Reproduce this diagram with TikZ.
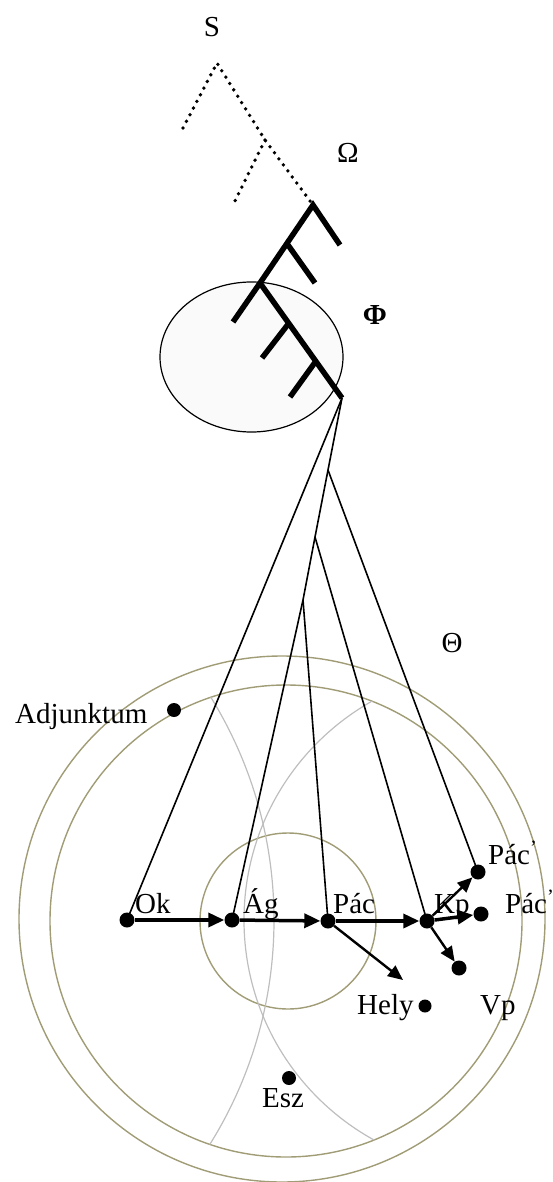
\documentclass[tikz,border=0pt]{standalone}
\usepackage{fontspec}
\setmainfont{Liberation Serif}
\usetikzlibrary{arrows.meta, positioning}

\definecolor{ringcol}{RGB}{160,156,118}
\definecolor{arccol}{RGB}{190,190,190}

\begin{document}
\begin{tikzpicture}[
    x=1pt, y=-1pt,
    dot/.style={circle, fill=black, inner sep=0pt, minimum size=15pt},
    lbl/.style={font=\fontsize{29}{31}\selectfont, inner sep=0pt},
    ring/.style={draw=ringcol, line width=1.4pt},
    guide/.style={draw=arccol, line width=1.2pt},
    dotline/.style={line width=3.8pt, line cap=round, dash pattern=on 0pt off 7.5pt},
    branch/.style={line width=5.5pt},
    fan/.style={line width=1.6pt},
    arr/.style={-{Triangle[length=16pt, width=14pt]}, line width=3.5pt},
    thinarr/.style={-{Triangle[length=15pt, width=13pt]}, line width=2.4pt},
]
\useasboundingbox (0,0) rectangle (552,1182);

% Theta rings
\draw[ring] (282,919) circle[radius=263pt];
\draw[ring] (286,921) circle[radius=236pt];
\draw[ring] (288,921) circle[radius=88pt];

% crossing guide arcs inside the inner ring
\begin{scope}
    \clip (286,921) circle[radius=236pt];
    \draw[guide] (-150,920) circle[radius=424pt];
    \draw[guide] (495,920) circle[radius=251pt];
\end{scope}

% Phi ellipse
\draw[line width=1.2pt, fill=gray!4] (251.5,357) ellipse[x radius=91.5pt, y radius=75pt];

% S tree (dotted)
\coordinate (s0) at (217,63);
\coordinate (s1) at (265,140);
\coordinate (w0) at (313,205);
\draw[dotline] (183,128) -- (s0) -- (s1) -- (w0);
\draw[dotline] (s1) -- (233,205);

% Omega / Phi tree (thick)
\coordinate (w1) at (288,245);
\coordinate (f0) at (260,283);
\coordinate (f1) at (289,323);
\coordinate (f2) at (316,361);
\coordinate (apex) at (342,398);
\draw[branch] (340,245) -- (w0) -- (f0) -- (apex);
\draw[branch] (w1) -- (315,283);
\draw[branch] (f0) -- (233,322);
\draw[branch] (f1) -- (262,358);
\draw[branch] (f2) -- (290,397);

% points
\node[dot] (ok) at (127,920) {};
\node[dot] (ag) at (232,920) {};
\node[dot] (pac) at (328,921) {};
\node[dot] (kp) at (427,921) {};
\node[dot] (pacu) at (478,872) {};
\node[dot] (pacl) at (481,914) {};
\node[dot] (vp) at (459,968) {};
\node[dot, minimum size=13pt] (hely) at (425,1006) {};
\node[dot, minimum size=14pt] (esz) at (289,1078) {};
\node[dot, minimum size=14pt] (adj) at (174,710) {};
\coordinate (helytip) at (403,980);

% fan from the tree to the points
\coordinate (j1) at (328,470);
\coordinate (j2) at (315,537);
\coordinate (j3) at (303,600);
\draw[fan] (apex) -- (ok.center);
\draw[fan] (apex) -- (j1) -- (j2) -- (j3) -- (ag.center);
\draw[fan] (j1) -- (pacu.center);
\draw[fan] (j2) -- (kp.center);
\draw[fan] (j3) -- (pac.center);

% arrows
\draw[arr] (ok) -- (ag);
\draw[arr] (ag) -- (pac);
\draw[arr] (pac) -- (kp);
\draw[arr] (kp) -- (pacl);
\draw[thinarr] (pac) -- (helytip);
\draw[thinarr] (kp) -- (vp);
\draw[thinarr] (kp) -- (pacu);

% labels
\node[lbl, anchor=center] (slbl) at (212,27) {S};
\node[lbl, anchor=center] (omegalbl) at (348,153) {Ω};
\node[lbl, anchor=center] (philbl) at (375,315) {\textbf{Φ}};
\node[lbl, anchor=center] (thetalbl) at (452,643) {Θ};
\node[lbl, anchor=base west] (adjlbl) at (15,723) {Adjunktum};
\node[lbl, anchor=base west] (oklbl) at (135,913) {Ok};
\node[lbl, anchor=base west] (aglbl) at (243,913) {Ág};
\node[lbl, anchor=base west] (paclbl) at (333,913) {Pác};
\node[lbl, anchor=base west] (kplbl) at (434,913) {Kp};
\node[lbl, anchor=base west] (paculbl) at (488,864) {Pác\textsuperscript{’}};
\node[lbl, anchor=base west] (pacllbl) at (505,913) {Pác\textsuperscript{’}};
\node[lbl, anchor=base west] (helylbl) at (357,1014) {Hely};
\node[lbl, anchor=base west] (vplbl) at (480,1014) {Vp};
\node[lbl, anchor=base west] (eszlbl) at (262,1107) {Esz};

\end{tikzpicture}
\end{document}
